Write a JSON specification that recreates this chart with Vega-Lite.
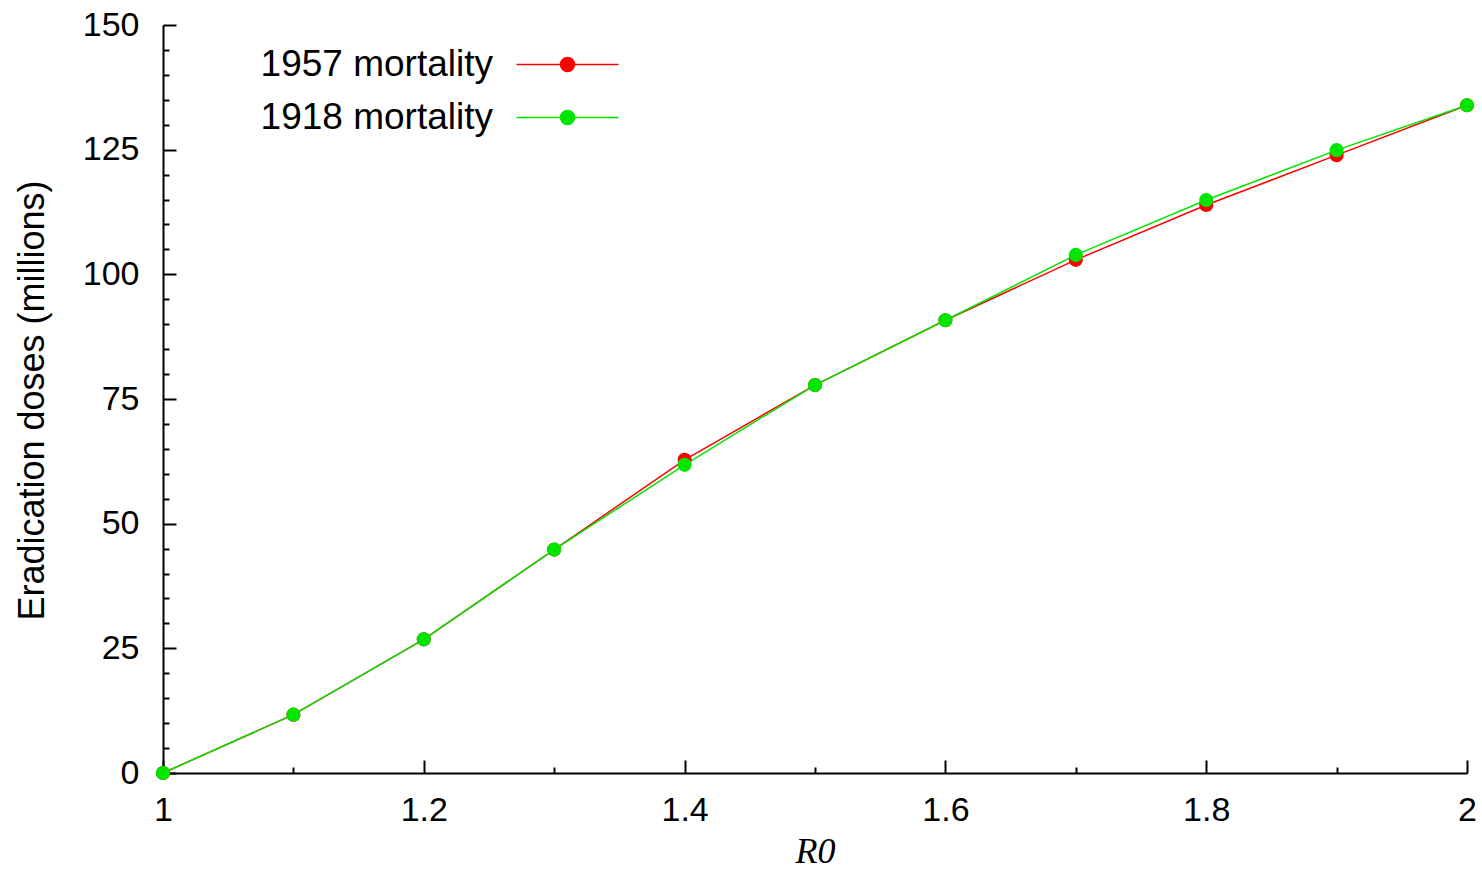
{
  "$schema": "https://vega.github.io/schema/vega-lite/v6.json",
  "width": 1304,
  "height": 748,
  "autosize": {"type": "none"},
  "padding": {"left": 163, "top": 25, "right": 15, "bottom": 101},
  "background": "white",
  "config": {
    "view": {"stroke": null},
    "font": "Liberation Sans",
    "axis": {
      "labelFont": "Liberation Sans",
      "labelFontSize": 34,
      "labelColor": "black",
      "grid": false,
      "tickColor": "black",
      "domainColor": "black",
      "tickWidth": 2,
      "domainWidth": 2,
      "labelFlush": false
    }
  },
  "data": {
    "values": [
      {"series": "1957 mortality", "R0": 1.0, "doses": 0},
      {"series": "1957 mortality", "R0": 1.1, "doses": 11.7},
      {"series": "1957 mortality", "R0": 1.2, "doses": 26.8},
      {"series": "1957 mortality", "R0": 1.3, "doses": 44.8},
      {"series": "1957 mortality", "R0": 1.4, "doses": 62.8},
      {"series": "1957 mortality", "R0": 1.5, "doses": 77.8},
      {"series": "1957 mortality", "R0": 1.6, "doses": 90.8},
      {"series": "1957 mortality", "R0": 1.7, "doses": 102.9},
      {"series": "1957 mortality", "R0": 1.8, "doses": 113.9},
      {"series": "1957 mortality", "R0": 1.9, "doses": 123.9},
      {"series": "1957 mortality", "R0": 2.0, "doses": 133.9},
      {"series": "1918 mortality", "R0": 1.0, "doses": 0},
      {"series": "1918 mortality", "R0": 1.1, "doses": 11.7},
      {"series": "1918 mortality", "R0": 1.2, "doses": 26.8},
      {"series": "1918 mortality", "R0": 1.3, "doses": 44.8},
      {"series": "1918 mortality", "R0": 1.4, "doses": 61.8},
      {"series": "1918 mortality", "R0": 1.5, "doses": 77.8},
      {"series": "1918 mortality", "R0": 1.6, "doses": 90.8},
      {"series": "1918 mortality", "R0": 1.7, "doses": 103.9},
      {"series": "1918 mortality", "R0": 1.8, "doses": 114.9},
      {"series": "1918 mortality", "R0": 1.9, "doses": 124.9},
      {"series": "1918 mortality", "R0": 2.0, "doses": 133.9}
    ]
  },
  "layer": [
    {
      "mark": {"type": "line", "strokeWidth": 1.5},
      "encoding": {
        "x": {
          "field": "R0", "type": "quantitative",
          "scale": {"domain": [1, 2], "nice": false, "zero": false},
          "axis": {
            "orient": "bottom",
            "values": [1, 1.2, 1.4, 1.6, 1.8, 2],
            "format": "~g",
            "tickSize": -13,
            "labelPadding": 33,
            "title": "R0",
            "titleFont": "Liberation Serif",
            "titleFontStyle": "italic",
            "titleFontWeight": "normal",
            "titleFontSize": 36,
            "titleColor": "black",
            "titleX": 652,
            "titleY": 89,
            "titleBaseline": "alphabetic",
            "titleAlign": "center"
          }
        },
        "y": {
          "field": "doses", "type": "quantitative",
          "scale": {"domain": [0, 150], "nice": false},
          "axis": {
            "orient": "left",
            "values": [0, 25, 50, 75, 100, 125, 150],
            "tickSize": -13,
            "labelPadding": 37,
            "title": "Eradication doses (millions)",
            "titleFont": "Liberation Sans",
            "titleFontSize": 36,
            "titleFontWeight": "normal",
            "titleColor": "black",
            "titleAngle": -90,
            "titleX": -131,
            "titleY": 375,
            "titleBaseline": "middle",
            "titleAlign": "center"
          }
        },
        "color": {
          "field": "series", "type": "nominal",
          "scale": {"domain": ["1957 mortality", "1918 mortality"], "range": ["#ff0000", "#00e600"]},
          "legend": {
            "title": null,
            "orient": "none",
            "legendX": 386,
            "legendY": 21,
            "padding": 0,
            "symbolType": "M-3.4,0H3.4M-0.467,0a0.467,0.467 0 1,0 0.934,0a0.467,0.467 0 1,0 -0.934,0",
            "symbolSize": 900,
            "symbolStrokeWidth": 1.5,
            "labelAlign": "right",
            "labelOffset": -93,
            "labelFont": "Liberation Sans",
            "labelFontSize": 37,
            "labelColor": "black",
            "labelLimit": 500,
            "rowPadding": 15,
            "encode": {
              "symbols": {
                "update": {
                  "fill": {"scale": "color", "field": "value"},
                  "stroke": {"scale": "color", "field": "value"},
                  "opacity": {"value": 1}
                }
              }
            }
          }
        }
      }
    },
    {
      "mark": {"type": "point", "filled": true, "size": 200, "opacity": 1},
      "encoding": {
        "x": {
          "field": "R0", "type": "quantitative",
          "scale": {"domain": [1, 2], "nice": false, "zero": false},
          "axis": {
            "orient": "bottom",
            "values": [1.1, 1.3, 1.5, 1.7, 1.9],
            "tickSize": -6,
            "labels": false,
            "domain": false,
            "title": null
          }
        },
        "y": {
          "field": "doses", "type": "quantitative",
          "scale": {"domain": [0, 150], "nice": false},
          "axis": {
            "orient": "left",
            "values": [5, 10, 15, 20, 30, 35, 40, 45, 55, 60, 65, 70, 80, 85, 90, 95, 105, 110, 115, 120, 130, 135, 140, 145],
            "tickSize": -6,
            "labels": false,
            "domain": false,
            "title": null
          }
        },
        "color": {"field": "series", "type": "nominal"}
      }
    }
  ],
  "resolve": {"axis": {"x": "independent", "y": "independent"}}
}
